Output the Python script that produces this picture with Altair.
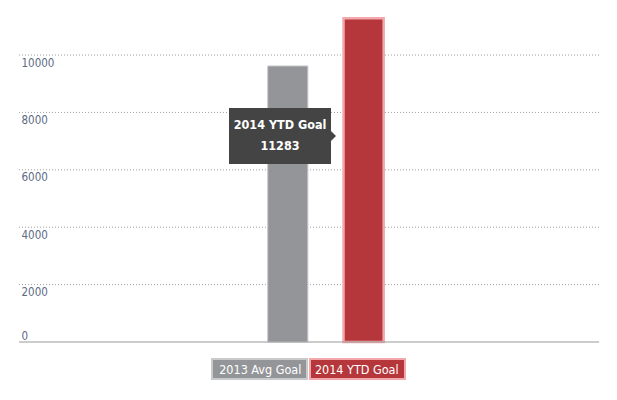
import altair as alt
import pandas as pd

# ---- data ----
categories = ["2013 Avg Goal", "2014 YTD Goal"]
values = [9620, 11283]
bar_colors = ["#939598", "#b5373b"]
stroke_colors = ["#c9cacc", "#f3a9ac"]
y_ticks = [0, 2000, 4000, 6000, 8000, 10000]

FONT = "DejaVu Sans Condensed, sans-serif"

df = pd.DataFrame({"cat": categories, "value": values})
tip = pd.DataFrame({"cat": [categories[1]], "value": [values[1]]})
grid_df = pd.DataFrame({"value": y_ticks[1:]})
base_df = pd.DataFrame({"value": [y_ticks[0]]})

color_scale = alt.Scale(domain=categories, range=bar_colors)
stroke_scale = alt.Scale(domain=categories, range=stroke_colors)
y_scale = alt.Scale(domain=[0, 11500], nice=False)

grid = alt.Chart(grid_df).mark_rule(color="#a0a0a0", strokeDash=[1, 2], strokeWidth=1).encode(
    y=alt.Y("value:Q", scale=y_scale, title=None,
            axis=alt.Axis(values=y_ticks, grid=False, domain=False, ticks=False,
                          tickSize=0, labelPadding=-2, labelAlign="left", format="d",
                          labelBaseline={"condition": {"test": "datum.value === 0", "value": "alphabetic"},
                                         "value": "top"},
                          labelOffset={"condition": {"test": "datum.value === 0", "value": -3},
                                       "value": 2},
                          labelFont=FONT, labelFontSize=11.5, labelColor="#5c6b84")))

bars = alt.Chart(df).mark_bar().encode(
    x=alt.X("cat:N", sort=categories, title=None, axis=None,
            scale=alt.Scale(range=[248.7, 364.7], paddingInner=0.47, paddingOuter=0)),
    y=alt.Y("value:Q", scale=y_scale),
    color=alt.Color("cat:N", scale=color_scale, legend=None),
    stroke=alt.Stroke("cat:N", scale=stroke_scale, legend=None),
    strokeWidth=alt.StrokeWidth("cat:N", scale=alt.Scale(domain=categories, range=[1, 2.5]),
                                legend=None),
)

baseline = alt.Chart(base_df).mark_rule(color="#9a9a9a", strokeWidth=1.2).encode(
    y=alt.Y("value:Q", scale=y_scale))

# legend-like tags under the axis
tag_x = alt.X("cat:N", sort=categories, axis=None, title=None,
              scale=alt.Scale(range=[193, 386], paddingInner=0.03, paddingOuter=0))
tags = alt.Chart(df).mark_bar(strokeWidth=2).encode(
    x=tag_x,
    y=alt.value(347), y2=alt.value(367),
    color=alt.Color("cat:N", scale=color_scale, legend=None),
    stroke=alt.Stroke("cat:N", scale=stroke_scale, legend=None),
)
tag_text = alt.Chart(df).mark_text(color="white", font=FONT, fontSize=12.5,
                                   baseline="middle").encode(
    x=tag_x, y=alt.value(357.5), text="cat:N")

# static tooltip annotation
tip_box = alt.Chart(tip).mark_rect(color="#444444").encode(
    x=alt.value(210), x2=alt.value(312), y=alt.value(96), y2=alt.value(152))
tip_arrow = alt.Chart(tip).mark_point(shape="M 0 -1 L 1 0 L 0 1 Z", filled=True,
                                      color="#444444", opacity=1, size=144).encode(
    x=alt.value(311), y=alt.value(124))
tip_title = alt.Chart(tip).mark_text(color="white", font=FONT, fontSize=12.5,
                                     fontWeight="bold", baseline="middle").encode(
    x=alt.value(261), y=alt.value(113), text="cat:N")
tip_value = alt.Chart(tip).mark_text(color="white", font=FONT, fontSize=12.5,
                                     fontWeight="bold", baseline="middle").encode(
    x=alt.value(261), y=alt.value(134), text="value:Q")

chart = alt.layer(grid, bars, baseline, tags, tag_text, tip_box, tip_arrow, tip_title, tip_value).resolve_scale(
    x="independent"
).properties(
    width=580, height=330,
    padding={"left": 10, "top": 4, "right": 5, "bottom": 5},
    background="white",
).configure_view(stroke=None)

chart.save("out.html", embed_options={"renderer": "svg", "actions": False})
